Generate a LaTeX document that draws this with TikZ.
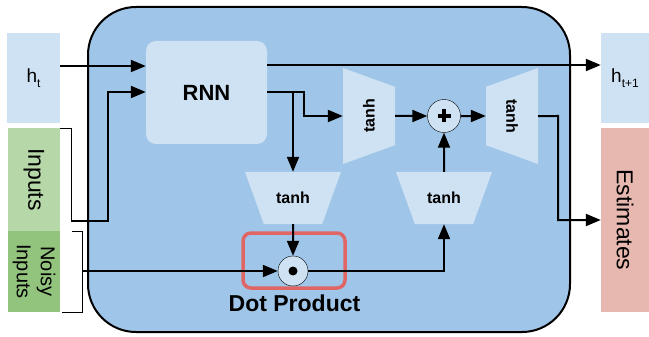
\documentclass[tikz,border=0pt]{standalone}
\usepackage{fontspec}
\setmainfont{Liberation Sans}
\usetikzlibrary{shapes.geometric,arrows.meta,positioning}
\definecolor{cellblue}{RGB}{159,197,232}
\definecolor{paleblue}{RGB}{207,226,243}
\definecolor{inputgreen}{RGB}{182,215,168}
\definecolor{noisygreen}{RGB}{147,196,125}
\definecolor{estimatered}{RGB}{230,184,175}
\definecolor{highlightred}{RGB}{224,102,102}
\newcommand{\fsz}[1]{\fontsize{#1}{#1}\selectfont}
\newcommand{\subtxt}[1]{\raisebox{-5pt}{\fsz{12}#1}}

\begin{document}
\begin{tikzpicture}[
    x=1pt, y=-1pt,
    box/.style={rectangle, inner sep=0pt, align=center},
    tanhbox/.style={trapezium, trapezium left angle=110, trapezium right angle=110, trapezium stretches body, fill=paleblue, minimum width=96pt, minimum height=52pt, inner xsep=0pt, inner ysep=20pt, font=\bfseries\fsz{16}},
    op/.style={circle, draw, thin, fill=paleblue, minimum size=33pt, inner sep=0pt},
    arrow/.style={-{Triangle[length=15pt,width=12pt]}, line width=2pt},
    bracket/.style={draw, line width=0.8pt}
  ]
    \useasboundingbox (0,0) rectangle (649,337);
    \draw[fill=cellblue, line width=2pt, rounded corners=48pt] (88,7) rectangle (570,332);

    \node[box, fill=paleblue, minimum width=53pt, minimum height=90pt, font=\fsz{19}] (ht) at (33.5,78) {h\subtxt{t}};
    \node[box, fill=inputgreen, rotate=-90, minimum width=103pt, minimum height=52pt, font=\fsz{23}] (inputs) at (34,179.5) {Inputs};
    \node[box, fill=noisygreen, rotate=-90, minimum width=81pt, minimum height=52pt, font=\fontsize{20}{24}\selectfont] (noisy) at (34,271.5) {Noisy\\Inputs};
    \node[box, fill=paleblue, minimum width=48pt, minimum height=90pt, font=\fsz{19}] (htn) at (625,78) {h\subtxt{t+1}};
    \node[box, fill=estimatered, rotate=-90, minimum width=184pt, minimum height=48pt, font=\fsz{23}] (est) at (625,220) {Estimates};

    \node[box, fill=paleblue, rounded corners=10pt, minimum width=121pt, minimum height=103pt, font=\bfseries\fsz{22}] (rnn) at (206.5,92.5) {RNN};
    \node[tanhbox, rotate=90] (tanhA) at (369,116) {tanh};
    \node[tanhbox, rotate=-90] (tanhB) at (512,116) {tanh};
    \node[tanhbox] (tanhC) at (293,198) {tanh};
    \node[tanhbox] (tanhD) at (444,198) {tanh};

    \node[box, draw=highlightred, line width=3.5pt, rounded corners=8pt, minimum width=102pt, minimum height=55pt] (dotbox) at (294,260.5) {};
    \node[op] (plus) at (444,116) {};
    \node[op, minimum size=30pt] (dot) at (293,271) {};
    \node[font=\bfseries\fsz{23}] (dotlabel) at (294.5,303) {Dot Product};
    \draw[line width=4pt] ([xshift=-6.5pt]plus.center) -- ([xshift=6.5pt]plus.center);
    \draw[line width=4pt] ([yshift=-6.5pt]plus.center) -- ([yshift=6.5pt]plus.center);
    \fill (dot.center) circle[radius=4.5pt];

    \draw[bracket] (60,128) -- (71,128) -- (71,221) coordinate (inbr);
    \draw[bracket] (72,231) -- (82,231) -- (82,312) -- (62,312);
    \coordinate (nzbr) at (82,271);

    \draw[arrow] (ht.east |- 0,66) -- (rnn.west |- 0,66);
    \draw[arrow] (inbr) -- (108,221) -- (108,92) -- (rnn.west |- 0,92);
    \draw[arrow] (rnn.east |- 0,65) -- (htn.west |- 0,65);
    \draw[arrow] (rnn.east |- 0,92) -| (tanhC.north);
    \draw[arrow] (rnn.east |- 0,92) -- (304,92) |- (tanhA.north);
    \draw[arrow] (tanhA.south) -- (plus);
    \draw[arrow] (plus) -- (tanhB.south);
    \draw[arrow] (tanhB.north) -- (558,116) |- (est.south);
    \draw[arrow] (tanhC.south) -- (dot);
    \draw[arrow] (nzbr) -- (dot);
    \draw[arrow] (dot) -| (tanhD.south);
    \draw[arrow] (tanhD.north) -- (plus);
  \end{tikzpicture}
\end{document}
